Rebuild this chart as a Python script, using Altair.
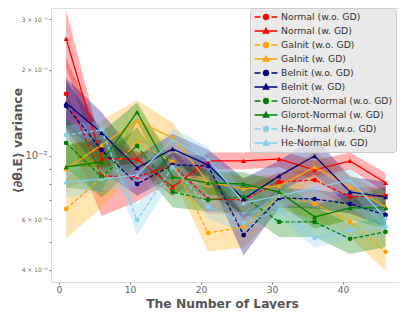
import altair as alt
import pandas as pd

# ---------------- data ----------------
layers_x = [1, 6, 11, 16, 21, 26, 31, 36, 41, 46]

series_names = [
    "Normal (w.o. GD)", "Normal (w. GD)",
    "GaInit (w.o. GD)", "GaInit (w. GD)",
    "BeInit (w.o. GD)", "BeInit (w. GD)",
    "Glorot-Normal (w.o. GD)", "Glorot-Normal (w. GD)",
    "He-Normal (w.o. GD)", "He-Normal (w. GD)",
]
series_colors = ["#ff0000", "#ff0000", "#ffa500", "#ffa500", "#000080",
                 "#000080", "#008000", "#008000", "#87ceeb", "#87ceeb"]

normal_wo = [0.01647, 0.00851, 0.00845, 0.00930, 0.00707, 0.00702, 0.00811, 0.00824, 0.00719, 0.00725]
normal_w = [0.0257, 0.00976, 0.00976, 0.00779, 0.00961, 0.00961, 0.00976, 0.00893, 0.00961, 0.00805]
gainit_wo = [0.00653, 0.00838, 0.0111, 0.00953, 0.00538, 0.00565, 0.00725, 0.00680, 0.00588, 0.00462]
gainit_w = [0.00901, 0.01093, 0.01326, 0.01156, 0.00811, 0.00767, 0.00785, 0.00915, 0.00779, 0.00664]
beinit_wo = [0.01496, 0.01049, 0.00798, 0.00930, 0.00923, 0.00529, 0.00713, 0.00707, 0.00680, 0.00622]
beinit_w = [0.01532, 0.01204, 0.00908, 0.01058, 0.00930, 0.00707, 0.00851, 0.0100, 0.00748, 0.00719]
glorot_wo = [0.0111, 0.00845, 0.01084, 0.00748, 0.00702, 0.00719, 0.00588, 0.00588, 0.00513, 0.00543]
glorot_w = [0.00915, 0.00953, 0.01424, 0.00845, 0.00805, 0.00798, 0.00748, 0.00612, 0.00658, 0.00658]
he_wo = [0.01184, 0.01233, 0.00597, 0.00915, 0.00664, 0.00583, 0.00647, 0.00517, 0.00551, 0.00565]
he_w = [0.00811, 0.0083, 0.00858, 0.01137, 0.00976, 0.00685, 0.00725, 0.00773, 0.00824, 0.00607]

# multiplicative half-width of the shaded bands
normal_wo_spread = [1.33, 1.38, 1.22, 1.13, 1.13, 1.10, 1.08, 1.08, 1.08, 1.07]
normal_w_spread = [1.26, 1.10, 1.07, 1.08, 1.07, 1.07, 1.07, 1.08, 1.07, 1.08]
gainit_wo_spread = [1.27, 1.27, 1.22, 1.13, 1.16, 1.18, 1.13, 1.13, 1.13, 1.17]
gainit_w_spread = [1.18, 1.22, 1.18, 1.13, 1.10, 1.10, 1.10, 1.13, 1.10, 1.10]
beinit_wo_spread = [1.22, 1.18, 1.10, 1.10, 1.08, 1.18, 1.08, 1.08, 1.08, 1.10]
beinit_w_spread = [1.22, 1.18, 1.10, 1.13, 1.13, 1.18, 1.13, 1.16, 1.13, 1.13]
glorot_wo_spread = [1.22, 1.18, 1.16, 1.13, 1.10, 1.13, 1.13, 1.13, 1.13, 1.13]
glorot_w_spread = [1.18, 1.27, 1.08, 1.13, 1.10, 1.10, 1.10, 1.10, 1.10, 1.18]
he_wo_spread = [1.08, 1.08, 1.13, 1.10, 1.10, 1.08, 1.08, 1.08, 1.08, 1.08]
he_w_spread = [1.13, 1.10, 1.10, 1.10, 1.10, 1.10, 1.10, 1.10, 1.10, 1.10]

series_values = [normal_wo, normal_w, gainit_wo, gainit_w, beinit_wo,
                 beinit_w, glorot_wo, glorot_w, he_wo, he_w]
series_spreads = [normal_wo_spread, normal_w_spread, gainit_wo_spread, gainit_w_spread,
                  beinit_wo_spread, beinit_w_spread, glorot_wo_spread, glorot_w_spread,
                  he_wo_spread, he_w_spread]

y_tick_values = [0.004, 0.005, 0.006, 0.007, 0.008, 0.009, 0.01, 0.02, 0.03]
x_tick_values = [0, 10, 20, 30, 40]

# ---------------- table ----------------
rows = []
for i, (name, vals, spr) in enumerate(zip(series_names, series_values, series_spreads)):
    grp = "wo" if "w.o." in name else "w"
    for x, v, s in zip(layers_x, vals, spr):
        rows.append({"series": name, "order": i, "grp": grp, "layers": x,
                     "value": v, "lo": v / s, "hi": v * s})
df = pd.DataFrame(rows)

path_wo = "M-2.3,0H-1.1M1.1,0H2.3M-0.5,0A0.5,0.5,0,1,0,0.5,0A0.5,0.5,0,1,0,-0.5,0Z"
path_w = "M-2.3,0H2.3M0,-0.6L0.55,0.4L-0.55,0.4Z"
legend_paths = [path_wo if "w.o." in n else path_w for n in series_names]

FONT = "DejaVu Sans"

LEG = dict(title=None, orient="none", legendX=199, legendY=0,
           fillColor="rgba(229,229,229,0.8)", strokeColor="#cccccc", cornerRadius=3,
           padding=3, labelFont=FONT, labelFontSize=9.3, labelColor="#333333",
           symbolSize=100, symbolStrokeWidth=1.3, symbolOpacity=1, symbolOffset=7,
           labelOffset=9, rowPadding=2, labelLimit=200)

x_enc = alt.X("layers:Q",
              scale=alt.Scale(domain=[-1.127, 47.887], nice=False, zero=False),
              axis=alt.Axis(values=x_tick_values, title="The Number of Layers",
                            titleFontWeight="bold", titleFontSize=12.3, titleColor="#555555",
                            titleFont=FONT, titleBaseline="alphabetic", titleY=25, titleX=171,
                            labelFont=FONT, labelFontSize=9.2, labelColor="#666666",
                            labelPadding=1, tickSize=2, tickColor="#777777",
                            grid=True, gridColor="white", gridWidth=1, domain=False))
y_scale = alt.Scale(type="log", domain=[0.003625, 0.0329], nice=False)
y_axis = alt.Axis(
    values=y_tick_values,
    labelExpr=("datum.value == 0.01 ? '10⁻²' : datum.value == 0.02 ? '2 × 10⁻²' : "
               "datum.value == 0.03 ? '3 × 10⁻²' : datum.value == 0.006 ? '6 × 10⁻³' : "
               "datum.value == 0.004 ? '4 × 10⁻³' : ''"),
    labelFontSize={"condition": {"test": "datum.value == 0.01", "value": 10}, "value": 6},
    labelFont=FONT, labelColor="#666666", labelPadding=2, tickSize=2, tickColor="#777777",
    grid=True, gridColor="white", gridWidth=1,
    gridOpacity={"condition": {"test": "datum.value == 0.01", "value": 1}, "value": 0},
    domain=False,
    title="⟨∂θ₁E⟩ variance", titleFont=FONT, titleFontWeight="bold", titleFontSize=12.5,
    titleColor="#555555", titleAngle=270, titleX=-34, titleY=132, titleAlign="center",
    titleBaseline="middle")

color_scale = alt.Scale(domain=series_names, range=series_colors)
color_enc = alt.Color("series:N", scale=color_scale, sort=series_names,
                      legend=alt.Legend(**LEG))

base = alt.Chart(df)

bands = base.mark_area(opacity=0.3, clip=True).encode(
    x=x_enc,
    y=alt.Y("lo:Q", scale=y_scale, axis=y_axis),
    y2="hi:Q",
    color=color_enc,
    order=alt.Order("order:Q"),
)

lines = base.mark_line(strokeWidth=1.3, clip=True).encode(
    x="layers:Q",
    y=alt.Y("value:Q", scale=y_scale),
    color=color_enc,
    strokeDash=alt.StrokeDash("grp:N", scale=alt.Scale(domain=["wo", "w"], range=[[4, 2], [1, 0]]),
                              legend=None),
    detail="series:N",
)

pts_wo = base.transform_filter("datum.grp == 'wo'").mark_point(
    filled=True, shape="circle", size=22, opacity=1, clip=True).encode(
    x="layers:Q", y=alt.Y("value:Q", scale=y_scale), color=color_enc)

pts_w = base.transform_filter("datum.grp == 'w'").mark_point(
    filled=True, shape="triangle-up", size=26, opacity=1, clip=True).encode(
    x="layers:Q", y=alt.Y("value:Q", scale=y_scale), color=color_enc)

legend_layer = base.mark_point(filled=True, opacity=0).encode(
    x="layers:Q", y=alt.Y("value:Q", scale=y_scale),
    color=color_enc,
    shape=alt.Shape("series:N", sort=series_names,
                    scale=alt.Scale(domain=series_names, range=legend_paths),
                    legend=alt.Legend(**LEG)),
    stroke=alt.Stroke("series:N", sort=series_names,
                      scale=alt.Scale(domain=series_names, range=series_colors),
                      legend=alt.Legend(**LEG)),
)

chart = alt.layer(bands, lines, pts_wo, pts_w, legend_layer).properties(
    width=348, height=274,
    autosize=alt.AutoSizeParams(type="none"),
    padding={"left": 43, "top": 0, "right": 0, "bottom": 27},
).configure_view(fill="#E5E5E5", stroke=None).configure(background="white")

chart.save("out.html", embed_options={"renderer": "svg", "actions": False})
